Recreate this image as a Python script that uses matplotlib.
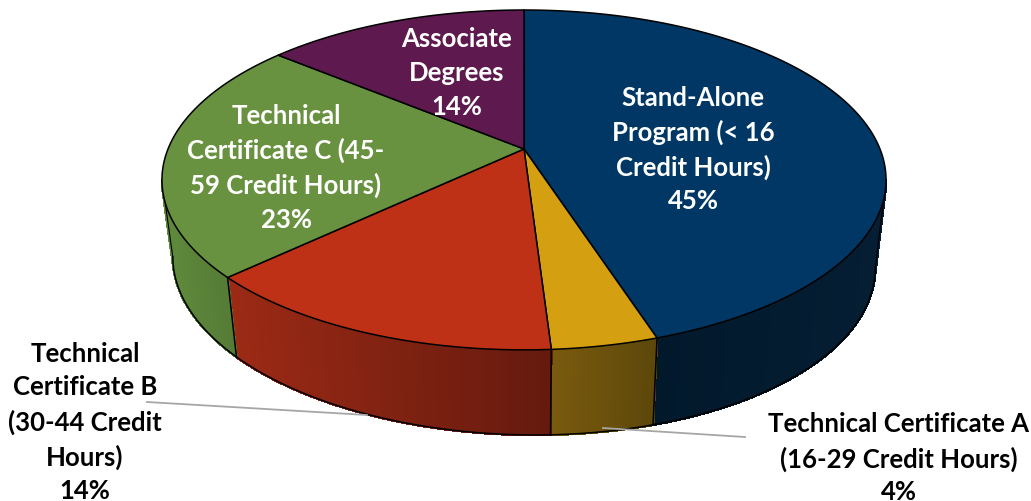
import numpy as np
import matplotlib
matplotlib.use("Agg")
import matplotlib.pyplot as plt
from matplotlib.collections import PolyCollection
from matplotlib.patches import Polygon

plt.rcParams['font.family'] = ['Lato', 'DejaVu Sans']

labels = [
    "Stand-Alone\nProgram (< 16\nCredit Hours)",
    "Technical Certificate A\n(16-29 Credit Hours)",
    "Technical\nCertificate B\n(30-44 Credit\nHours)",
    "Technical\nCertificate C (45-\n59 Credit Hours)",
    "Associate\nDegrees",
]
values = [45, 4, 14, 23, 14]
top_colors = ["#003764", "#D4A012", "#BF3116", "#68923F", "#5E1A4E"]
wall_left = ["#02192C", "#7A5B0E", "#9C2A15", "#5F8A3C", "#3A0F30"]
wall_right = ["#051E33", "#5C470A", "#651A0E", "#557B36", "#3A0F30"]
label_pos = [(693, 133), (899, 442), (85, 406), (286, 151), (457, 56)]
pct_pos = [(693, 201), (899, 492), (85, 491), (286, 220), (457, 107)]
label_color = ["white", "black", "black", "white", "white"]
leaders = [((603, 745), (429, 438)), ((367, 147), (416, 403))]

CX, CY = 524, 150
RX, RY, K = 356, 164.3, 0.182
# the wall shows between the two points where the rim turns back
T_RIGHT = -np.arcsin(K)
T_LEFT = -np.pi + np.arcsin(K)


def top_face(t):
    """Circle angle (radians) to picture coordinates, with perspective."""
    w = 1 + K * np.sin(t)
    return CX + RX * np.cos(t) / w, CY - RY * np.sin(t) / w


def bottom_face(t):
    w = 1 + K * np.sin(t)
    ux, uy = np.cos(t) / w, -np.sin(t) / w
    return CX + 0.97 * RX * ux, CY + 82 + 1.015 * RY * uy + 5.4 * ux


def mix(c1, c2, f):
    a, b = np.array(matplotlib.colors.to_rgb(c1)), np.array(matplotlib.colors.to_rgb(c2))
    return a + (b - a) * f


fig = plt.figure(figsize=(10.31, 5.02), dpi=100)
ax = fig.add_axes([0, 0, 1, 1])
ax.set_xlim(0, 1031)
ax.set_ylim(502, 0)
ax.axis("off")

# angles of the slice edges, clockwise from the top
edges = np.pi / 2 - 2 * np.pi * np.cumsum([0] + values) / sum(values)

# side walls, only the front part shows
for i in range(len(values)):
    t_start = min(edges[i], T_RIGHT)
    t_end = max(edges[i + 1], T_LEFT)
    if t_start <= t_end:
        continue
    t = np.linspace(t_start, t_end, 150)
    x1, y1 = top_face(t)
    x2, y2 = bottom_face(t)
    quads = []
    cols = []
    for j in range(len(t) - 1):
        quads.append([(x1[j], y1[j]), (x1[j + 1], y1[j + 1]), (x2[j + 1], y2[j + 1]), (x2[j], y2[j])])
        f = (x1[j] - x1.min()) / max(x1.max() - x1.min(), 1)
        cols.append(mix(wall_left[i], wall_right[i], f))
    ax.add_collection(PolyCollection(quads, facecolors=cols, edgecolors=cols, linewidths=1.2,
                                     antialiased=False, zorder=1))
    ax.plot(x2, y2, color="black", lw=1.1, zorder=2)
    # edge between two walls
    if T_LEFT < edges[i + 1] < T_RIGHT:
        xa, ya = top_face(edges[i + 1])
        xb, yb = bottom_face(edges[i + 1])
        ax.plot([xa, xb], [ya, yb], color="black", lw=1.1, zorder=2)

# outer sides of the wall
for t_side in [T_RIGHT, T_LEFT]:
    xa, ya = top_face(t_side)
    xb, yb = bottom_face(t_side)
    ax.plot([xa, xb], [ya, yb], color="black", lw=0.8, zorder=2)

# top face
for i in range(len(values)):
    t = np.linspace(edges[i], edges[i + 1], 200)
    x, y = top_face(t)
    pts = np.column_stack([np.r_[CX, x], np.r_[CY, y]])
    ax.add_patch(Polygon(pts, closed=True, facecolor=top_colors[i], edgecolor="black", lw=1.1, zorder=3))

for lx, ly in leaders:
    ax.plot(lx, ly, color="#A6A6A6", lw=1.3, zorder=4)

for i in range(len(values)):
    ax.text(label_pos[i][0], label_pos[i][1], labels[i], color=label_color[i], fontsize=18.5,
            fontweight="bold", ha="center", va="center", linespacing=1.48, zorder=5)
    ax.text(pct_pos[i][0], pct_pos[i][1], f"{values[i]}%", color=label_color[i], fontsize=18.5,
            fontweight="bold", ha="center", va="center", zorder=5)

plt.savefig("out.png", dpi=100)
